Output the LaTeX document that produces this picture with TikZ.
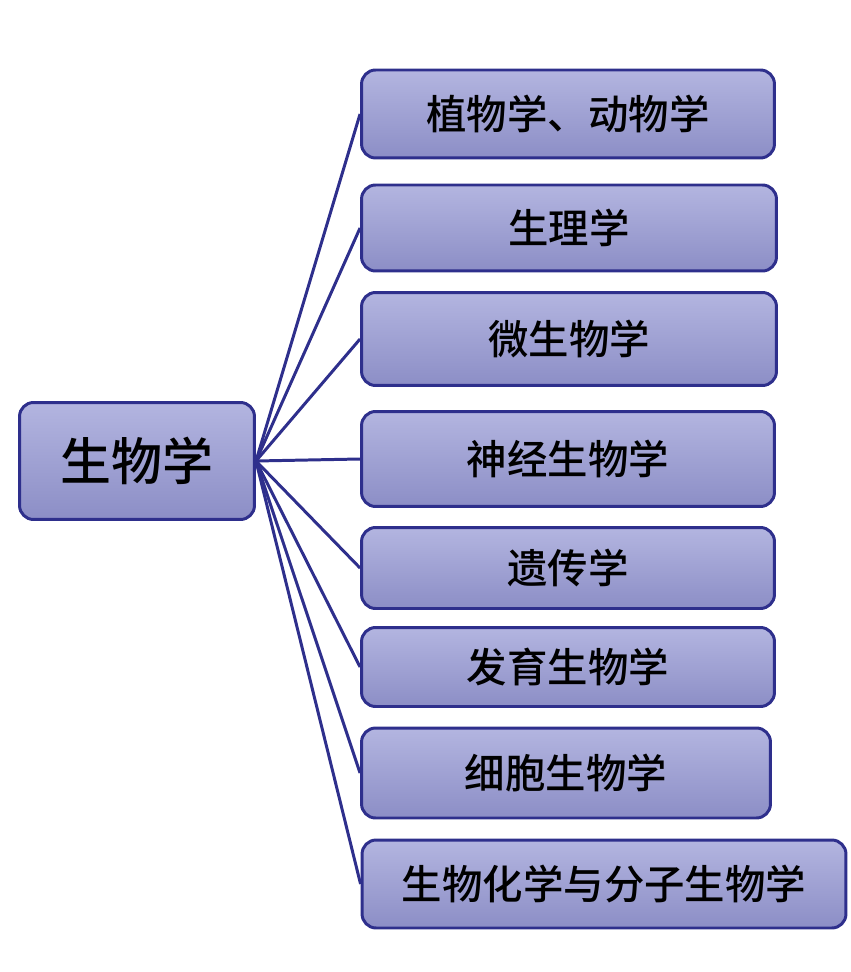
\documentclass[tikz,border=0pt]{standalone}
\usepackage{fontspec}
\newfontfamily\cjk{Noto Sans CJK SC Medium}
\usetikzlibrary{positioning}
\definecolor{boxline}{HTML}{2E2F8C}
\definecolor{boxtop}{HTML}{B3B5E0}
\definecolor{boxbot}{HTML}{8C8EC6}
\tikzset{
  topic/.style={draw=boxline, line width=1.7pt, rounded corners=8pt, top color=boxtop, bottom color=boxbot, font=\cjk\fontsize{23}{26}\selectfont, inner sep=0pt},
  rootbox/.style={topic, font=\cjk\fontsize{29}{32}\selectfont}
}
\begin{document}
\begin{tikzpicture}[x=0.02cm, y=-0.02cm]
	\useasboundingbox (0,0) rectangle (850,972);
	\node[rootbox, minimum width=4.7cm, minimum height=2.34cm] (bio) at (137,461) {生物学};
	\node[topic, minimum width=8.26cm, minimum height=1.76cm] (zoo) at (568,114) {植物学、动物学};
	\node[topic, minimum width=8.3cm, minimum height=1.72cm] (physio) at (569,228) {生理学};
	\node[topic, minimum width=8.3cm, minimum height=1.86cm] (micro) at (569,339) {微生物学};
	\node[topic, minimum width=8.26cm, minimum height=1.9cm] (neuro) at (568,459) {神经生物学};
	\node[topic, minimum width=8.26cm, minimum height=1.62cm] (gene) at (568,568) {遗传学};
	\node[topic, minimum width=8.26cm, minimum height=1.58cm] (devel) at (568,667) {发育生物学};
	\node[topic, minimum width=8.18cm, minimum height=1.8cm] (cell) at (566,773) {细胞生物学};
	\node[topic, minimum width=9.68cm, minimum height=1.76cm] (chem) at (604,884) {生物化学与分子生物学};
	\foreach \t in {zoo,physio,micro,neuro,gene,devel,cell,chem}
		\draw[boxline, line width=1.7pt] (bio.east) -- (\t.west);
\end{tikzpicture}
\end{document}
